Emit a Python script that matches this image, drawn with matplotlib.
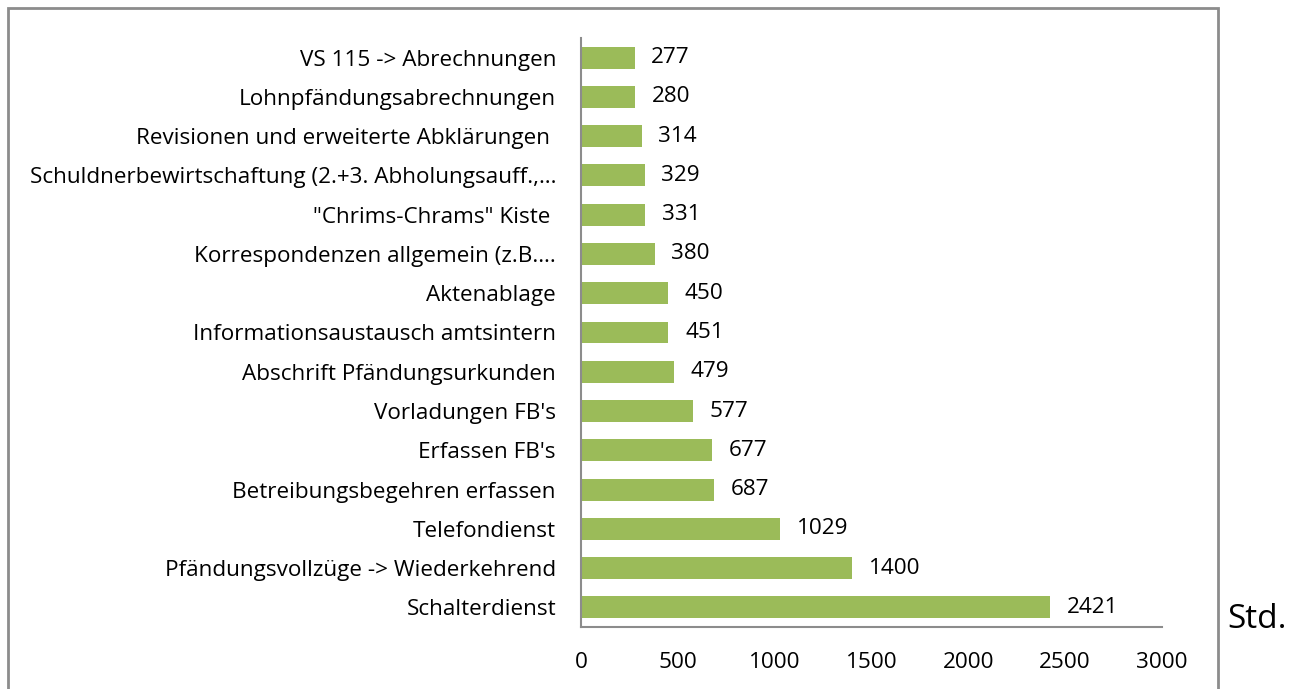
import matplotlib
matplotlib.use("Agg")
import matplotlib.pyplot as plt
from matplotlib.patches import Rectangle

categories = [
    "Schalterdienst",
    "Pfändungsvollzüge -> Wiederkehrend",
    "Telefondienst",
    "Betreibungsbegehren erfassen",
    "Erfassen FB's",
    "Vorladungen FB's",
    "Abschrift Pfändungsurkunden",
    "Informationsaustausch amtsintern",
    "Aktenablage",
    "Korrespondenzen allgemein (z.B.…",
    "\"Chrims-Chrams\" Kiste ",
    "Schuldnerbewirtschaftung (2.+3. Abholungsauff.,…",
    "Revisionen und erweiterte Abklärungen ",
    "Lohnpfändungsabrechnungen",
    "VS 115 -> Abrechnungen",
]
values = [2421, 1400, 1029, 687, 677, 577, 479, 451, 450, 380, 331, 329, 314, 280, 277]
x_ticks = [0, 500, 1000, 1500, 2000, 2500, 3000]
unit_label = "Std."

FONT = ["Open Sans", "DejaVu Sans"]
FS = 16.2
BAR = "#9BBB59"
GRAY = "#8C8C8C"

W, H = 1300, 689
fig = plt.figure(figsize=(W / 100, H / 100), dpi=100)
fig.patch.set_facecolor("white")

# outer chart border (bottom edge runs past the image)
fig.patches.append(Rectangle((8 / W, -0.05), (1218 - 8) / W, 1.05 - 8 / H,
                             transform=fig.transFigure, fill=False,
                             edgecolor=GRAY, linewidth=2))

ax = fig.add_axes([581 / W, 1 - 627 / H, (1162 - 581) / W, (627 - 38) / H])
y = list(range(len(categories)))
ax.barh(y, values, height=0.56, color=BAR, edgecolor="none")
ax.set_ylim(-0.5, len(categories) - 0.5)
ax.set_xlim(0, 3000)
ax.set_xticks(x_ticks)
ax.set_xticklabels([str(t) for t in x_ticks], family=FONT, fontsize=FS)
ax.set_yticks(y)
ax.set_yticklabels(categories, family=FONT, fontsize=FS)
ax.tick_params(axis="x", length=0, pad=18)
ax.tick_params(axis="y", length=0, pad=18)
for s in ["top", "right"]:
    ax.spines[s].set_visible(False)
for s in ["left", "bottom"]:
    ax.spines[s].set_color(GRAY)
    ax.spines[s].set_linewidth(1.5)

for yi, v in zip(y, values):
    ax.annotate(str(v), (v, yi), xytext=(12, 0), textcoords="offset points",
                va="center", ha="left", family=FONT, fontsize=FS)

fig.text(1227 / W, 1 - 619 / H, unit_label, family=FONT, fontsize=24,
         va="center", ha="left")

fig.savefig("out.png", dpi=100, facecolor="white")
